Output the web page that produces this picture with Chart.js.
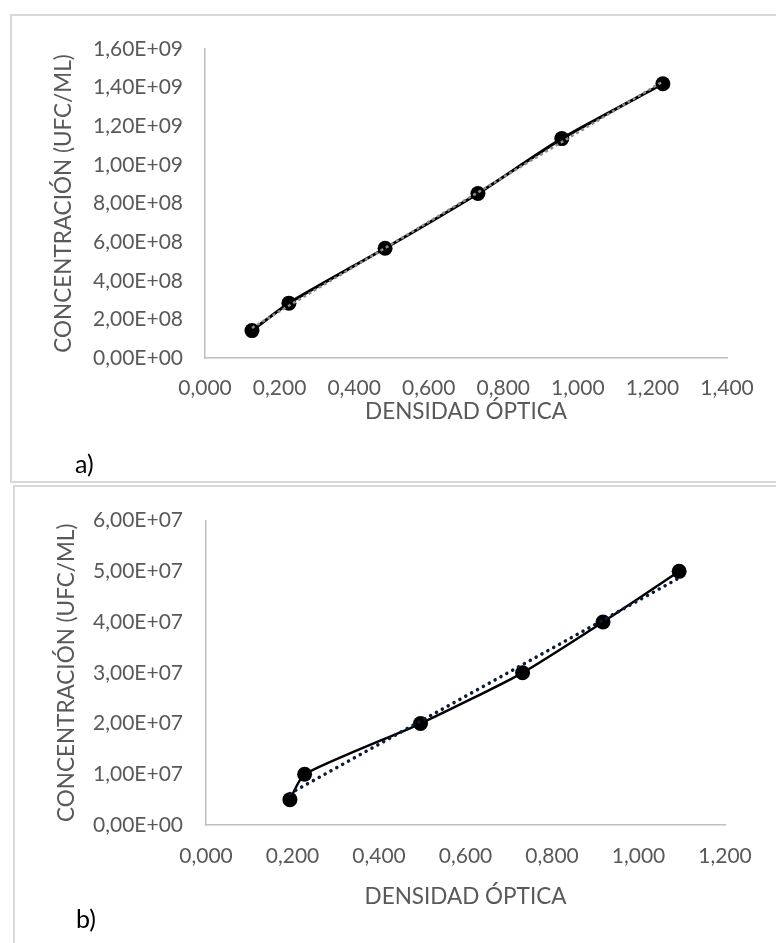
<!DOCTYPE html>
<html>
<head>
<meta charset="utf-8">
<title>Curvas de calibración</title>
<script src="https://cdn.jsdelivr.net/npm/chart.js@4.4.1/dist/chart.umd.min.js"></script>
<style>
    body { margin: 0; background: #fff; width: 776px; height: 943px; overflow: hidden; position: relative; font-family: Lato, "Open Sans", sans-serif; }
    .box { position: absolute; border: 2px solid #d9d9d9; box-sizing: border-box; }
    #boxA { left: 10px; top: 14px; width: 790px; height: 469px; }
    #boxB { left: 13px; top: 485px; width: 790px; height: 480px; }
    canvas { position: absolute; }
    #chartA { left: 10px; top: 14px; }
    #chartB { left: 13px; top: 485px; }
    .tag { position: absolute; font-size: 25px; color: #000; line-height: 28px; }
</style>
</head>
<body>
<div class="box" id="boxA"></div>
<div class="box" id="boxB"></div>
<canvas id="chartA" width="766" height="468"></canvas>
<canvas id="chartB" width="763" height="458"></canvas>
<div class="tag" style="left:75px; top:449px;">a)</div>
<div class="tag" style="left:76px; top:904px;">b)</div>

<script>
// a) densidad óptica vs concentración
const odA = [0.126, 0.225, 0.483, 0.732, 0.957, 1.228];
const ufcA = [1.42e8, 2.84e8, 5.68e8, 8.52e8, 1.136e9, 1.42e9];
const trendOdA = [0.126, 1.228];
const trendUfcA = [1.56e8, 1.432e9];
const xTicksA = [0, 1.4, 0.2];      // min, max, step
const yTicksA = [0, 1.6e9, 2e8];

// b)
const odB = [0.194, 0.228, 0.496, 0.732, 0.918, 1.094];
const ufcB = [5e6, 1e7, 2e7, 3e7, 4e7, 5e7];
const trendOdB = [0.194, 1.094];
const trendUfcB = [6.2e6, 4.87e7];
const xTicksB = [0, 1.2, 0.2];
const yTicksB = [0, 6e7, 1e7];

const xTitle = "DENSIDAD ÓPTICA";
const yTitle = "CONCENTRACIÓN (UFC/ML)";

const grey = "#595959";
const tickFont = { family: "Lato", size: 21 };
const titleFont = { family: "Lato", size: 22.5 };

function pairs(xs, ys) {
    return xs.map((x, i) => ({ x: x, y: ys[i] }));
}

// 1,60E+09 style labels
function sci(v) {
    const parts = Number(v).toExponential(2).split("e");
    const exp = parseInt(parts[1], 10);
    const sign = exp < 0 ? "-" : "+";
    return parts[0].replace(".", ",") + "E" + sign + String(Math.abs(exp)).padStart(2, "0");
}

function makeChart(id, cfg) {
    const ctx = document.getElementById(id).getContext("2d");
    const half = titleFont.size * 1.2 / 2;
    return new Chart(ctx, {
        type: "scatter",
        data: {
            datasets: [
                {
                    data: pairs(cfg.trendX, cfg.trendY),
                    showLine: true,
                    borderColor: cfg.trendColor,
                    borderWidth: cfg.trendWidth,
                    borderDash: cfg.trendDash,
                    borderCapStyle: cfg.trendCap,
                    pointRadius: 0,
                    fill: false
                },
                {
                    data: pairs(cfg.xs, cfg.ys),
                    showLine: true,
                    borderColor: "#000",
                    borderWidth: cfg.lineWidth,
                    tension: 0.2,
                    pointRadius: 7.5,
                    pointBackgroundColor: "#000",
                    pointBorderColor: "#000",
                    pointBorderWidth: 0,
                    fill: false
                }
            ]
        },
        options: {
            responsive: false,
            animation: false,
            events: [],
            layout: { padding: cfg.padding },
            plugins: { legend: { display: false }, tooltip: { enabled: false } },
            scales: {
                x: {
                    type: "linear",
                    min: cfg.xTicks[0],
                    max: cfg.xTicks[1],
                    afterFit: s => { s.height = cfg.xHeight; },
                    ticks: {
                        stepSize: cfg.xTicks[2],
                        color: grey,
                        font: tickFont,
                        padding: cfg.xTickPad,
                        maxRotation: 0,
                        callback: v => Number(v).toFixed(3).replace(".", ",")
                    },
                    grid: { drawOnChartArea: false, drawTicks: false },
                    border: { display: true, color: "#bfbfbf", width: 1.5 },
                    title: {
                        display: true,
                        text: xTitle,
                        color: grey,
                        font: titleFont,
                        padding: { top: 0, bottom: cfg.xTitleMid - half }
                    }
                },
                y: {
                    type: "linear",
                    min: cfg.yTicks[0],
                    max: cfg.yTicks[1],
                    afterFit: s => { s.width = cfg.yWidth; },
                    ticks: {
                        stepSize: cfg.yTicks[2],
                        color: grey,
                        font: tickFont,
                        padding: cfg.yTickPad,
                        callback: v => sci(v)
                    },
                    grid: { drawOnChartArea: false, drawTicks: false },
                    border: { display: true, color: "#bfbfbf", width: 1.5 },
                    title: {
                        display: true,
                        text: yTitle,
                        color: grey,
                        font: titleFont,
                        padding: { top: 54 - half, bottom: 0 }
                    }
                }
            }
        }
    });
}

makeChart("chartA", {
    xs: odA, ys: ufcA,
    trendX: trendOdA, trendY: trendUfcA,
    trendColor: "#8c8c8c", trendWidth: 2.5, trendDash: [3, 3], trendCap: "butt",
    lineWidth: 3,
    xTicks: xTicksA, yTicks: yTicksA,
    padding: { left: 0, top: 35, right: 49, bottom: 0 },
    xHeight: 124, yWidth: 195,
    xTickPad: 18, yTickPad: 22, xTitleMid: 70
});

makeChart("chartB", {
    xs: odB, ys: ufcB,
    trendX: trendOdB, trendY: trendUfcB,
    trendColor: "#0d1a36", trendWidth: 3.5, trendDash: [0.1, 6.6], trendCap: "round",
    lineWidth: 2.5,
    xTicks: xTicksB, yTicks: yTicksB,
    padding: { left: 0, top: 35, right: 51, bottom: 0 },
    xHeight: 118, yWidth: 193,
    xTickPad: 19, yTickPad: 23, xTitleMid: 46
});
</script>
</body>
</html>
